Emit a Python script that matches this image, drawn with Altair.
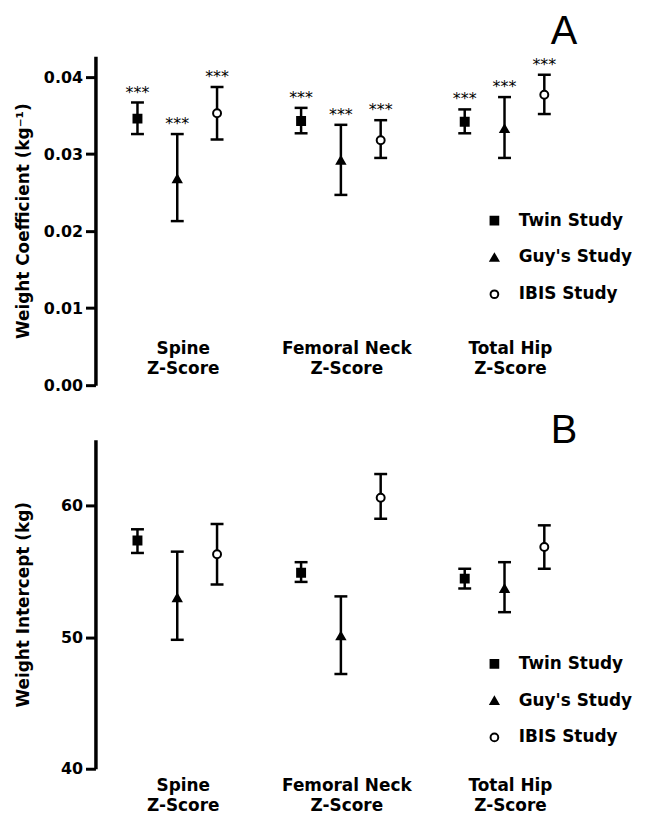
import altair as alt
import pandas as pd

categories = ["Spine", "Femoral Neck", "Total Hip"]
studies = ["Twin Study", "Guy's Study", "IBIS Study"]
score_line = "Z-Score"

# Panel A: weight coefficient (kg^-1), order: category x study
coef_mean = [0.0346, 0.0268, 0.0353, 0.0343, 0.0292, 0.0318, 0.0342, 0.0333, 0.0377]
coef_lo = [0.0326, 0.0213, 0.0319, 0.0327, 0.0247, 0.0295, 0.0327, 0.0295, 0.0352]
coef_hi = [0.0367, 0.0326, 0.0387, 0.0360, 0.0338, 0.0344, 0.0358, 0.0374, 0.0403]
coef_sig = ["***", "***", "***", "***", "***", "***", "***", "***", "***"]

# Panel B: weight intercept (kg)
int_mean = [57.35, 53.0, 56.3, 54.9, 50.1, 60.6, 54.45, 53.7, 56.85]
int_lo = [56.4, 49.8, 54.0, 54.2, 47.2, 59.0, 53.7, 51.9, 55.2]
int_hi = [58.2, 56.5, 58.6, 55.7, 53.1, 62.4, 55.2, 55.7, 58.5]

cat_col = [c for c in categories for _ in studies]
study_col = [s for _ in categories for s in studies]

dfA = pd.DataFrame({"category": cat_col, "study": study_col, "mean": coef_mean,
                    "lo": coef_lo, "hi": coef_hi, "sig": coef_sig})
dfB = pd.DataFrame({"category": cat_col, "study": study_col, "mean": int_mean,
                    "lo": int_lo, "hi": int_hi})

FONT = "DejaVu Sans"
label_expr = "[datum.label, '" + score_line + "']"


def panel(df, ydom, yvals, yfmt, ytitle, letter, t_offset, leg_y, x_offset, x_pad, stars):
    x = alt.X("category:N", title=None,
              scale=alt.Scale(domain=categories, paddingInner=0, paddingOuter=0),
              axis=alt.Axis(domain=False, ticks=False, labelAngle=0, labelFont=FONT,
                            labelFontSize=17, labelFontWeight="bold", labelColor="black",
                            labelLineHeight=20, labelExpr=label_expr, labelBaseline="top",
                            labelPadding=x_pad, offset=x_offset, labelOffset=6))
    xo = alt.XOffset("study:N", scale=alt.Scale(domain=studies, paddingInner=0, paddingOuter=0.556))
    yaxis = alt.Axis(values=yvals, format=yfmt, grid=False, domainColor="black", domainWidth=3.5,
                     tickColor="black", tickWidth=3, tickSize=10, labelPadding=3,
                     labelFont=FONT, labelFontSize=16, labelFontWeight="bold", labelColor="black",
                     minExtent=52, maxExtent=52, titleFont=FONT, titleFontSize=17,
                     titleFontWeight="bold", titleColor="black", titlePadding=11)
    yscale = alt.Scale(domain=ydom, nice=False, zero=False)

    def Y(field):
        return alt.Y(field + ":Q", scale=yscale, axis=yaxis, title=ytitle)

    base = alt.Chart(df)
    stem = base.mark_rule(color="black", strokeWidth=2.5).encode(
        x=x, xOffset=xo, y=Y("lo"), y2="hi:Q")
    caps = base.transform_fold(["lo", "hi"], as_=["end", "val"]).mark_tick(
        orient="horizontal", size=13, thickness=2.5, color="black", opacity=1).encode(
        x=x, xOffset=xo, y=Y("val"))
    legend = alt.Legend(orient="none", legendX=393, legendY=leg_y, title=None, padding=0,
                        labelFont=FONT, labelFontSize=17, labelFontWeight="bold",
                        labelColor="black", labelLimit=300, symbolSize=60,
                        symbolStrokeColor="black", symbolStrokeWidth=2, rowPadding=19,
                        labelOffset=16)
    pts = base.mark_point(size=64, strokeWidth=2, opacity=1).encode(
        x=x, xOffset=xo, y=Y("mean"),
        shape=alt.Shape("study:N", scale=alt.Scale(domain=studies,
                        range=["square", "triangle-up", "circle"]), legend=legend),
        fill=alt.Fill("study:N", scale=alt.Scale(domain=studies,
                      range=["black", "black", "white"]), legend=legend),
        stroke=alt.Stroke("study:N", scale=alt.Scale(domain=studies,
                          range=["black", "black", "black"]), legend=legend))
    layers = [stem, caps, pts]
    if stars:
        txt = base.mark_text(dy=-5, font=FONT, fontSize=16, baseline="alphabetic",
                             color="black").encode(x=x, xOffset=xo, y=Y("hi"), text="sig:N")
        layers.append(txt)
    return alt.layer(*layers).properties(
        width=494, height=331,
        title=alt.TitleParams(letter, anchor="end", frame="group", font="Liberation Sans",
                              fontSize=40, fontWeight="normal", color="black",
                              offset=t_offset, dx=-9))


top = panel(dfA, [0, 0.0427], [0, 0.01, 0.02, 0.03, 0.04], ".2f",
            "Weight Coefficient (kg\u207b\u00b9)", "A", 4, 157, -45, 0, True)
bottom = panel(dfB, [40, 65], [40, 50, 60], "d",
               "Weight Intercept (kg)", "B", -11, 217, 0, 9, False)

chart = alt.vconcat(top, bottom, spacing=18).resolve_scale(
    shape="independent", fill="independent", stroke="independent"
).resolve_legend(
    shape="independent", fill="independent", stroke="independent"
).properties(
    padding={"left": 7, "top": 2, "right": 5, "bottom": 0}, background="white"
).configure_view(strokeWidth=0, stroke="transparent")

chart.save("out.html", embed_options={"renderer": "svg", "actions": False})
